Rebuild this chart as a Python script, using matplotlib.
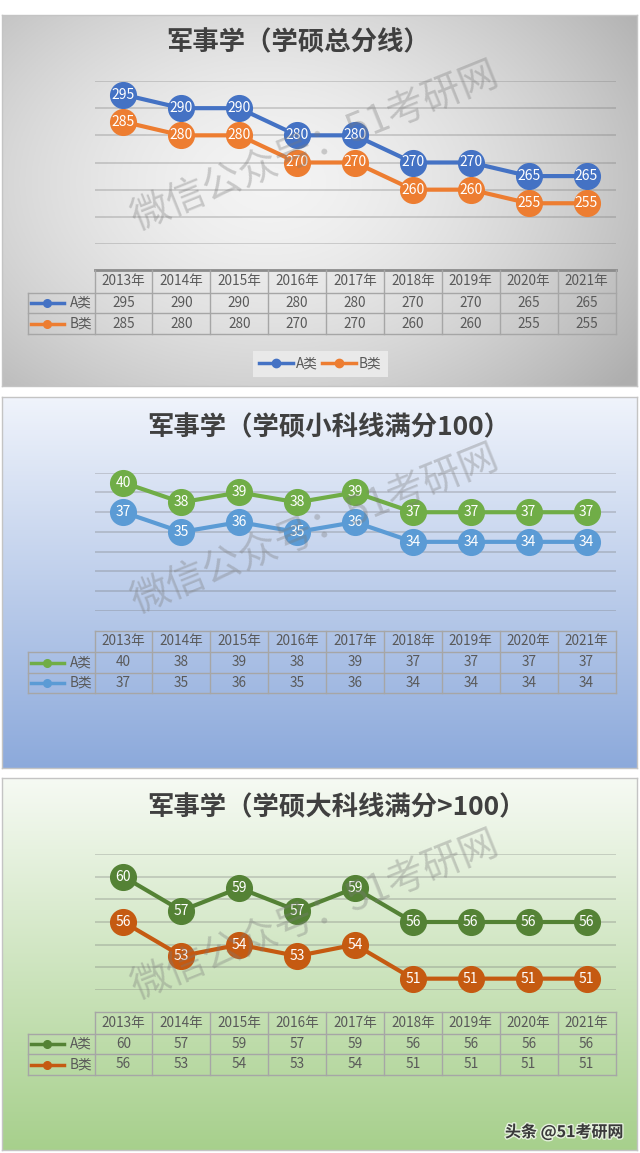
import numpy as np
import matplotlib.pyplot as plt
import matplotlib.patheffects as pe
from matplotlib.lines import Line2D
from matplotlib.transforms import blended_transform_factory

plt.rcParams['font.family'] = ['Noto Sans CJK SC', 'DejaVu Sans']

# ---------------- data ----------------
years = ['2013年', '2014年', '2015年', '2016年', '2017年',
         '2018年', '2019年', '2020年', '2021年']
series_names = ['A类', 'B类']

total_a = [295, 290, 290, 280, 280, 270, 270, 265, 265]
total_b = [285, 280, 280, 270, 270, 260, 260, 255, 255]
small_a = [40, 38, 39, 38, 39, 37, 37, 37, 37]
small_b = [37, 35, 36, 35, 36, 34, 34, 34, 34]
big_a = [60, 57, 59, 57, 59, 56, 56, 56, 56]
big_b = [56, 53, 54, 53, 54, 51, 51, 51, 51]

titles = ['军事学（学硕总分线）',
          '军事学（学硕小科线满分100）',
          '军事学（学硕大科线满分>100）']
watermark = '微信公众号：51考研网'
footer = '头条 @51考研网'

W, H = 640, 1153


def fx(x):
    return x / W


def fy(y):
    return 1 - y / H


fig = plt.figure(figsize=(W / 100, H / 100), dpi=100)


def background(top, bottom, kind, c1, c2):
    bg = fig.add_axes([fx(2), fy(bottom), fx(637) - fx(2), (bottom - top) / H])
    c1 = np.array(c1)
    c2 = np.array(c2)
    ny, nx = 200, 300
    if kind == 'radial':
        yy, xx = np.mgrid[0:1:ny * 1j, 0:1:nx * 1j]
        r = np.sqrt(((xx - 0.42) / 0.62) ** 2 + ((yy - 0.45) / 0.75) ** 2)
        t = np.clip(r, 0, 1.15)[..., None] ** 1.6
    else:
        t = np.linspace(0, 1, ny)[:, None, None] * np.ones((1, nx, 1))
    img = c1 * (1 - t) + c2 * t
    bg.imshow(np.clip(img, 0, 1), extent=[0, 1, 0, 1], aspect='auto', origin='upper')
    bg.set_xticks([])
    bg.set_yticks([])
    for s in bg.spines.values():
        s.set_color('#c4c4c4')
        s.set_linewidth(1)
    return bg


def panel(top, bottom, bg_kind, c1, c2, title, title_x, title_y,
          plot_top, plot_bottom, ylo, yhi, ystep,
          a, b, ca, cb, rows, wm_y, legend_y=None, head_lw=1.0, head_col='#a6a6a6'):
    background(top, bottom, bg_kind, c1, c2)

    left, right = 94.5, 615.5
    ax = fig.add_axes([fx(left), fy(plot_bottom), (right - left) / W,
                       (plot_bottom - plot_top) / H])
    ax.set_facecolor('none')
    x = np.arange(len(years))
    ax.set_xlim(-0.5, len(years) - 0.5)
    ax.set_ylim(ylo, yhi)
    ax.set_yticks(np.arange(ylo, yhi + ystep / 2, ystep))
    ax.grid(axis='y', color='#6f6f6f', alpha=0.35, lw=1.1)
    ax.set_axisbelow(True)
    ax.tick_params(left=False, bottom=False, labelleft=False, labelbottom=False)
    for s in ax.spines.values():
        s.set_visible(False)

    for vals, col in ((a, ca), (b, cb)):
        ax.plot(x, vals, color=col, lw=3, marker='o', ms=18.5,
                mfc=col, mec=col, zorder=3, clip_on=False)
        for xi, v in zip(x, vals):
            ax.text(xi, v, str(v), color='white', fontsize=10,
                    ha='center', va='center', zorder=4)

    fig.text(fx(title_x), fy(title_y), title, fontsize=19, fontweight='bold',
             color='#404040', ha='left', va='center')

    # data table under the plot
    trans = blended_transform_factory(ax.transData, fig.transFigure)
    upx = (right - left) / len(years)

    def xd(px):
        return -0.5 + (px - left) / upx

    ht, r1, r2, r3 = rows
    tcol = '#a6a6a6'
    tsize = 9.8
    tleft = xd(27.5)
    ax.plot([-0.5, len(years) - 0.5], [fy(ht)] * 2, transform=trans,
            color=head_col, lw=head_lw, clip_on=False)
    for yy in (r1, r2, r3):
        ax.plot([tleft, len(years) - 0.5], [fy(yy)] * 2, transform=trans,
                color=tcol, lw=1, clip_on=False)
    for i in range(len(years) + 1):
        ax.plot([i - 0.5] * 2, [fy(ht), fy(r3)], transform=trans,
                color=tcol, lw=1, clip_on=False)
    ax.plot([tleft] * 2, [fy(r1), fy(r3)], transform=trans,
            color=tcol, lw=1, clip_on=False)

    for i, yr in enumerate(years):
        ax.text(i, fy((ht + r1) / 2), yr, transform=trans, fontsize=tsize,
                color='#595959', ha='center', va='center')
        ax.text(i, fy((r1 + r2) / 2), str(a[i]), transform=trans, fontsize=tsize,
                color='#595959', ha='center', va='center')
        ax.text(i, fy((r2 + r3) / 2), str(b[i]), transform=trans, fontsize=tsize,
                color='#595959', ha='center', va='center')

    for name, col, y0, y1 in ((series_names[0], ca, r1, r2),
                              (series_names[1], cb, r2, r3)):
        ym = fy((y0 + y1) / 2)
        ax.plot([xd(31), xd(64)], [ym] * 2, transform=trans, color=col,
                lw=2.5, clip_on=False)
        ax.plot([xd(47)], [ym], transform=trans, marker='o', ms=5.5,
                color=col, clip_on=False)
        ax.text(xd(92), ym, name, transform=trans, fontsize=tsize,
                color='#595959', ha='right', va='center')

    if legend_y is not None:
        handles = [Line2D([], [], color=ca, lw=2.5, marker='o', ms=6, label=series_names[0]),
                   Line2D([], [], color=cb, lw=2.5, marker='o', ms=6, label=series_names[1])]
        leg = ax.legend(handles=handles, loc='center',
                        bbox_to_anchor=(fx(320.5), fy(legend_y)),
                        bbox_transform=fig.transFigure, ncol=2, fontsize=9.8,
                        handlelength=2.5, handletextpad=0.2, columnspacing=0.3,
                        borderpad=0.45, frameon=True, fancybox=False)
        leg.get_frame().set_facecolor('#e9e9e9')
        leg.get_frame().set_edgecolor('none')
        leg.get_frame().set_alpha(1)
        for t in leg.get_texts():
            t.set_color('#595959')

    fig.text(fx(315), fy(top + wm_y), watermark, rotation=22, fontsize=28,
             color='#7a7a7a', alpha=0.35, ha='center', va='center',
             rotation_mode='anchor', zorder=10)
    return ax


# panel 1: total score
panel(15, 386, 'radial', (0.955, 0.955, 0.955), (0.74, 0.74, 0.74),
      titles[0], 166, 43, 81, 244, 240, 300, 10,
      total_a, total_b, '#4472c4', '#ed7d31',
      (270, 293, 313, 334), 132, legend_y=364, head_lw=2.0, head_col='#8c8c8c')

# panel 2: small subjects
panel(397, 768, 'linear', (0.94, 0.955, 0.985), (0.55, 0.665, 0.86),
      titles[1], 147, 428, 472.7, 611, 27, 41, 2,
      small_a, small_b, '#70ad47', '#5b9bd5',
      (630.7, 652, 673, 693), 133)

# panel 3: large subjects
panel(778, 1150, 'linear', (0.965, 0.98, 0.955), (0.655, 0.815, 0.55),
      titles[2], 147, 808, 854, 990, 50, 62, 2,
      big_a, big_b, '#548235', '#c55a11',
      (1012, 1034, 1054, 1075), 138)

fig.text(fx(505), fy(1132), footer, fontsize=11.5, fontweight='bold',
         color='#3a3a3a', ha='left', va='center',
         path_effects=[pe.withStroke(linewidth=2, foreground='white', alpha=0.7)])

fig.savefig('out.png', dpi=100)
